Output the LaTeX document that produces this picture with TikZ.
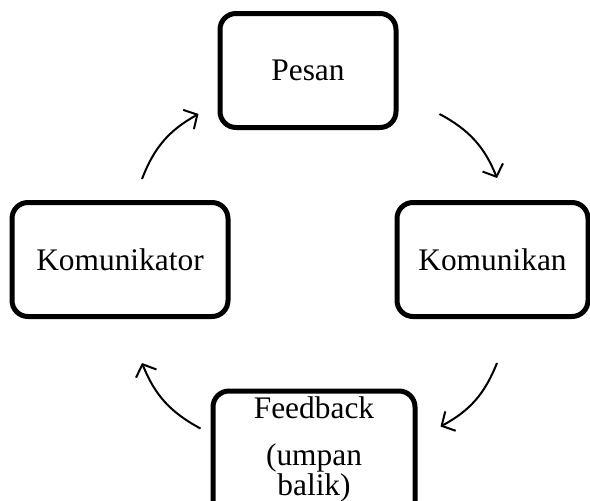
\documentclass[tikz,border=0pt]{standalone}
\usepackage{fontspec}
\setmainfont{Liberation Serif}
\usetikzlibrary{arrows.meta}

\begin{document}
\begin{tikzpicture}[x=0.5pt, y=0.5pt,
    every node/.style={font=\fontsize{15.7}{13}\selectfont, align=center},
    box/.style={draw, line width=2.5pt, rounded corners=8pt, inner sep=0pt, minimum height=57pt},
    flow/.style={line width=1pt, -{Straight Barb[length=5pt, width=11pt, line width=1pt]}, bend left=20}]
        \useasboundingbox (0,0) rectangle (590,500);
        % Kotak
        \node[box, minimum width=88pt] (pesan) at (308,429.5) {Pesan};
        \node[box, minimum width=108pt] (komunikator) at (120,240.5) {Komunikator};
        \node[box, minimum width=95.5pt] (komunikan) at (492.5,240.5) {Komunikan};
        \node[box, minimum width=101pt, minimum height=64.5pt,
              label={[name=feedbacktext, inner sep=0pt, yshift=3pt]center:{Feedback\\[10.5pt](umpan\\balik)}}] (feedback) at (314,44.5) {};

        % Panah
        \draw[flow] ([shift={(22,21)}]komunikator.north) to ([shift={(-19,16)}]pesan.south west);
        \draw[flow] ([shift={(41,16)}]pesan.south east) to ([shift={(4.5,22)}]komunikan.north);
        \draw[flow] ([shift={(4.5,-44)}]komunikan.south) to ([shift={(23,-38)}]feedback.north east);
        \draw[flow] ([shift={(-10,-40)}]feedback.north west) to ([shift={(22,-44)}]komunikator.south);
    \end{tikzpicture}
\end{document}
